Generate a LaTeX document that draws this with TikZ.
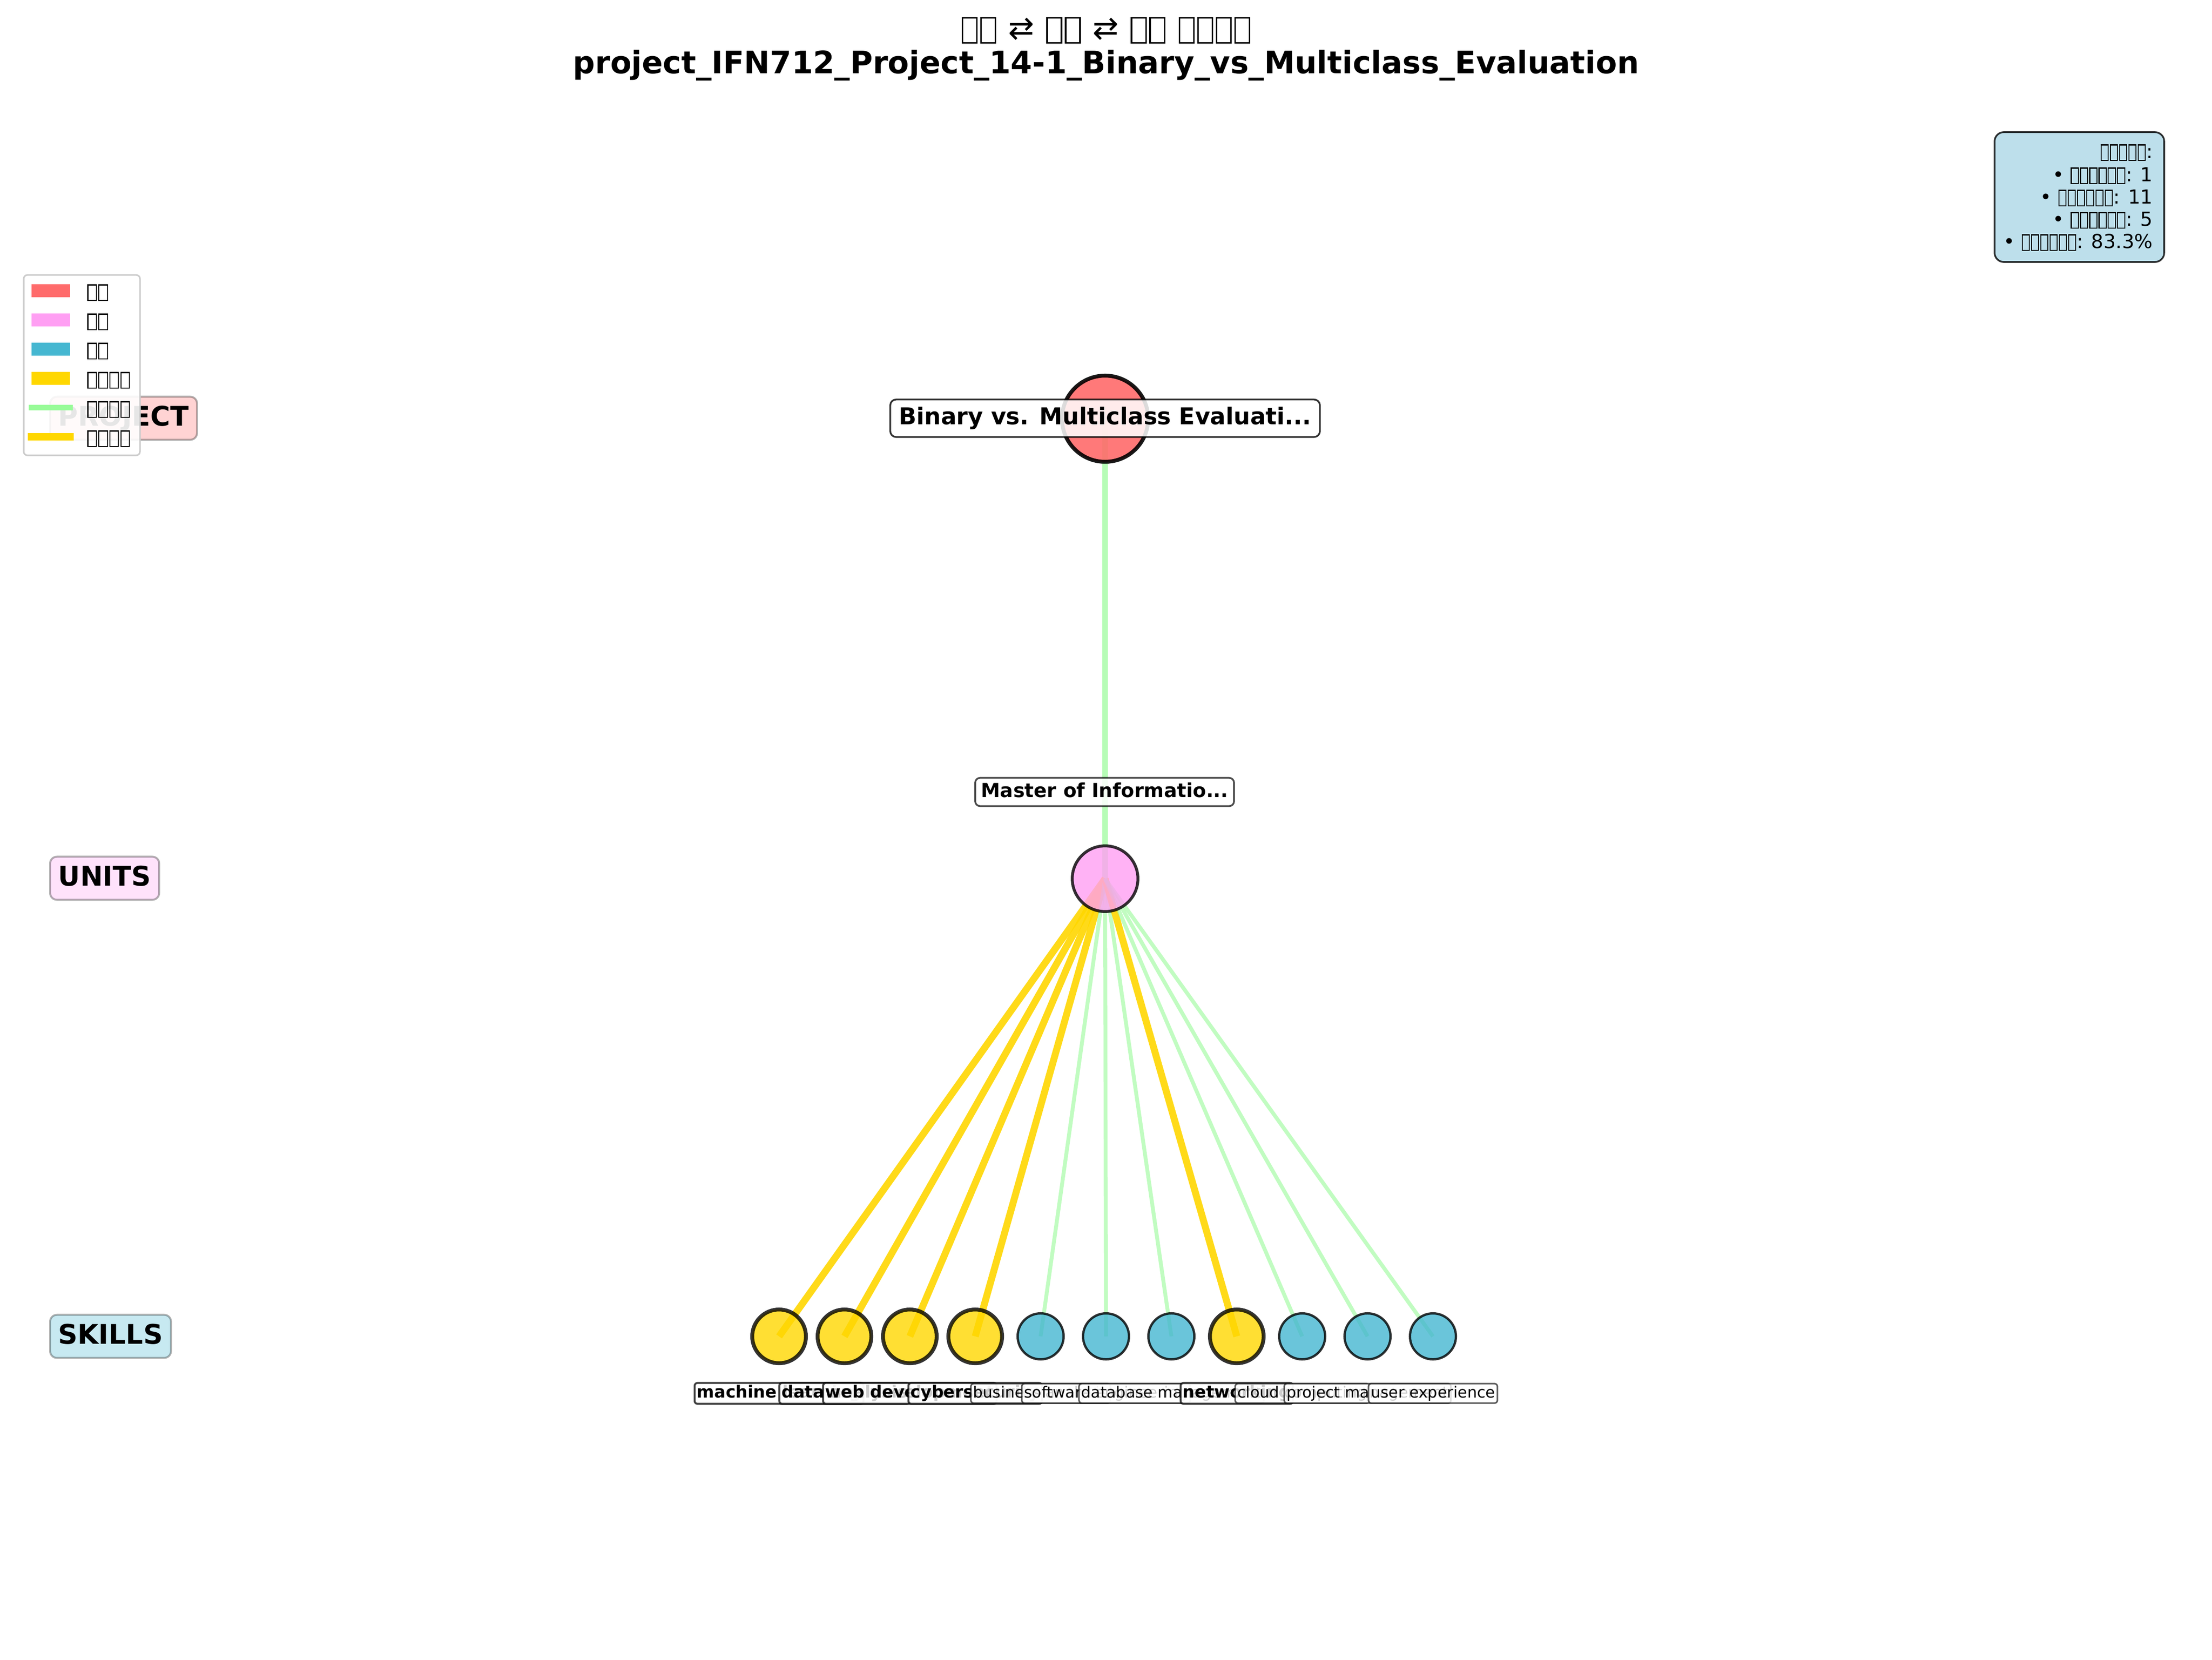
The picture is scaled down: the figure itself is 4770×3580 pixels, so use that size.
\documentclass[tikz,border=0pt]{standalone}
\usepackage{fontspec}
\setmainfont{DejaVu Sans}
\definecolor{cproj}{HTML}{FF6B6B}
\definecolor{cunit}{HTML}{FF9FF3}
\definecolor{cskill}{HTML}{45B7D1}
\definecolor{cgold}{HTML}{FFD700}
\definecolor{cgreen}{HTML}{98FB98}
\definecolor{cstat}{HTML}{ADD8E6}
\definecolor{clegedge}{HTML}{CCCCCC}
\newcommand\tofu[1][0.5]{\makebox[#1em][c]{\raisebox{-0.1em}{\setlength\fboxsep{0pt}\setlength\fboxrule{0.05em}\fbox{\rule{0pt}{0.76em}\rule{\dimexpr #1em*86/100-0.1em\relax}{0pt}}}}}
\newcommand\tfT{\tofu[0.6]}
\newcommand\tfS{\tofu[0.48]}
\newcommand\tfL{\tofu[0.57]}
\pgfdeclarelayer{back}
\pgfdeclarelayer{bg}
\pgfsetlayers{back,bg,main}
\begin{document}
\begin{tikzpicture}[x=0.24pt, y=-0.24pt,
  projnode/.style={circle, inner sep=0pt, minimum size=44.6pt, fill=cproj, fill opacity=0.9, draw=black, draw opacity=0.9, line width=2pt},
  unitnode/.style={circle, inner sep=0pt, minimum size=34pt, fill=cunit, fill opacity=0.8, draw=black, draw opacity=0.8, line width=1.5pt},
  goldnode/.style={circle, inner sep=0pt, minimum size=27.8pt, fill=cgold, fill opacity=0.8, draw=black, draw opacity=0.8, line width=2pt},
  skillnode/.style={circle, inner sep=0pt, minimum size=23.8pt, fill=cskill, fill opacity=0.8, draw=black, draw opacity=0.8, line width=1.2pt},
  hier/.style={draw=cgreen, draw opacity=0.7, line width=3pt},
  weak/.style={draw=cgreen, draw opacity=0.6, line width=2pt},
  strong/.style={draw=cgold, draw opacity=0.9, line width=3.6pt},
  plab/.style={draw=black, draw opacity=0.8, fill=white, fill opacity=0.85, text opacity=1, rounded corners=3pt, line width=0.9pt, font=\fontsize{12}{14}\selectfont\bfseries, inner xsep=4.4pt, inner ysep=4pt, text height=9pt, text depth=2.4pt},
  ulab/.style={draw=black, draw opacity=0.7, fill=white, fill opacity=0.85, text opacity=1, rounded corners=2.5pt, line width=0.9pt, font=\fontsize{10}{12}\selectfont\bfseries, inner xsep=3pt, inner ysep=2.55pt, text height=7.5pt, text depth=2pt},
  skl/.style={draw=black, draw opacity=0.65, fill=white, fill opacity=0.8, text opacity=1, rounded corners=1.5pt, line width=0.8pt, font=\fontsize{8}{9.6}\selectfont, inner xsep=1.2pt, inner ysep=1.1pt, text height=6.2pt, text depth=1.7pt},
  sklb/.style={skl, font=\fontsize{8.7}{10.4}\selectfont\bfseries, draw opacity=0.75, line width=1pt, inner xsep=1.2pt, inner ysep=1.15pt, text height=6.6pt, text depth=1.9pt},
  levelbox/.style={anchor=west, draw=black, draw opacity=0.3, line width=1pt, rounded corners=3.5pt, font=\fontsize{14}{16}\selectfont\bfseries, inner xsep=4.25pt, inner ysep=4.5pt, text height=10.5pt, text depth=2.8pt},
  legbox/.style={draw=clegedge, line width=0.8pt, fill=white, fill opacity=0.9, rounded corners=2pt, minimum width=60.2pt, minimum height=93.4pt, inner sep=0pt},
  legpatch/.style={inner sep=0pt, minimum width=19.9pt, minimum height=6.7pt},
  legtext/.style={anchor=base west, inner sep=0pt, font=\fontsize{10}{12}\selectfont},
  statbox/.style={draw=black, draw opacity=0.8, line width=0.9pt, fill=cstat, fill opacity=0.8, rounded corners=4.8pt, minimum width=87.8pt, minimum height=67.2pt, inner sep=0pt},
  stattext/.style={anchor=base east, inner sep=0pt, font=\fontsize{10}{12}\selectfont},
  titlestyle/.style={anchor=base, inner sep=0pt, font=\fontsize{16}{19}\selectfont\bfseries}
]
\useasboundingbox (0,0) rectangle (4770,3580);
\begin{pgfonlayer}{back}
\fill[white] (0,0) rectangle (4770,3580);
\end{pgfonlayer}

% nodes
\node[projnode] (p) at (2383,903) {};
\node[unitnode] (u) at (2383,1895) {};
\node[goldnode] (s0) at (1680,2882) {};
\node[goldnode] (s1) at (1821,2882) {};
\node[goldnode] (s2) at (1962,2882) {};
\node[goldnode] (s3) at (2103,2882) {};
\node[skillnode] (s4) at (2244,2882) {};
\node[skillnode] (s5) at (2385,2882) {};
\node[skillnode] (s6) at (2526,2882) {};
\node[goldnode] (s7) at (2667,2882) {};
\node[skillnode] (s8) at (2808,2882) {};
\node[skillnode] (s9) at (2949,2882) {};
\node[skillnode] (s10) at (3090,2882) {};

% edges
\begin{pgfonlayer}{bg}
\draw[hier] (p.center) -- (u.center);
\draw[strong] (u.center) -- (s0.center);
\draw[strong] (u.center) -- (s1.center);
\draw[strong] (u.center) -- (s2.center);
\draw[strong] (u.center) -- (s3.center);
\draw[weak] (u.center) -- (s4.center);
\draw[weak] (u.center) -- (s5.center);
\draw[weak] (u.center) -- (s6.center);
\draw[strong] (u.center) -- (s7.center);
\draw[weak] (u.center) -- (s8.center);
\draw[weak] (u.center) -- (s9.center);
\draw[weak] (u.center) -- (s10.center);
\end{pgfonlayer}

% labels
\node[plab] (plabel) at (2383,902) {Binary vs. Multiclass Evaluati...};
\node[ulab] (ulabel) at (2382,1708) {Master of Informatio...};
\node[sklb] (l0) at (1680,3005) {machine learning};
\node[sklb] (l1) at (1821,3005) {data analysis};
\node[sklb] (l2) at (1962,3005) {web development};
\node[sklb] (l3) at (2103,3005) {cybersecurity};
\node[skl] (l4) at (2244,3005) {business analysis};
\node[skl] (l5) at (2385,3005) {software engineering};
\node[skl] (l6) at (2526,3005) {database management};
\node[sklb] (l7) at (2667,3005) {networking};
\node[skl] (l8) at (2808,3005) {cloud computing};
\node[skl] (l9) at (2949,3005) {project management};
\node[skl] (l10) at (3090,3005) {user experience};

% level labels
\node[levelbox, fill=cproj!30] (lvp) at (106,902) {PROJECT};
\node[levelbox, fill=cunit!30] (lvu) at (106,1894) {UNITS};
\node[levelbox, fill=cskill!30] (lvs) at (106,2882) {SKILLS};

% legend
\node[legbox] (legend) at (176.5,787.5) {};
\node[legpatch, fill=cproj] (lp1) at (109.5,627) {};
\node[legpatch, fill=cunit] (lp2) at (109.5,690) {};
\node[legpatch, fill=cskill] (lp3) at (109.5,753) {};
\node[legpatch, fill=cgold] (lp4) at (109.5,816) {};
\coordinate (lg5a) at (68,879);
\coordinate (lg5b) at (151,879);
\coordinate (lg6a) at (68,942);
\coordinate (lg6b) at (151,942);
\draw[cgreen, line width=3pt, line cap=rect] (lg5a) -- (lg5b);
\draw[cgold, line width=4pt, line cap=rect] (lg6a) -- (lg6b);
\node[legtext] (lt1) at (186,643) {\tfL\tfL};
\node[legtext] (lt2) at (186,706) {\tfL\tfL};
\node[legtext] (lt3) at (186,769) {\tfL\tfL};
\node[legtext] (lt4) at (186,832) {\tfL\tfL\tfL\tfL};
\node[legtext] (lt5) at (186,895) {\tfL\tfL\tfL\tfL};
\node[legtext] (lt6) at (186,958) {\tfL\tfL\tfL\tfL};

% statistics box
\node[statbox] (stats) at (4484,425) {};
\node[stattext] (st1) at (4643,341) {\tfS\tfS\tfS\tfS\tfS:};
\node[stattext] (st2) at (4643,391) {• \tfS\tfS\tfS\tfS\tfS\tfS: 1};
\node[stattext] (st3) at (4643,439) {• \tfS\tfS\tfS\tfS\tfS\tfS: 11};
\node[stattext] (st4) at (4643,487) {• \tfS\tfS\tfS\tfS\tfS\tfS: 5};
\node[stattext] (st5) at (4643,535) {• \tfS\tfS\tfS\tfS\tfS\tfS: 83.3\%};

% title
\node[titlestyle] (title1) at (2385,84) {\tfT\tfT{} {\mdseries ⇄} \tfT\tfT{} {\mdseries ⇄} \tfT\tfT{} \tfT\tfT\tfT\tfT};
\node[titlestyle] (title2) at (2385,158) {project\_IFN712\_Project\_14-1\_Binary\_vs\_Multiclass\_Evaluation};
\end{tikzpicture}
\end{document}
